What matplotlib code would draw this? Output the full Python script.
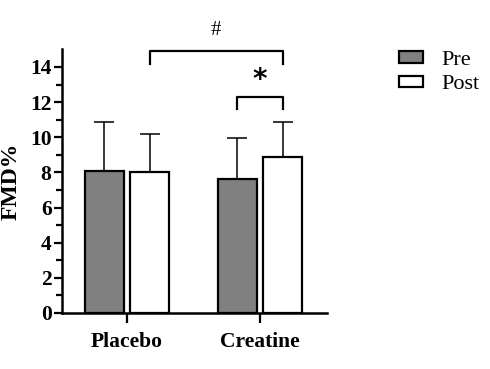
import matplotlib
matplotlib.use("Agg")
import matplotlib.pyplot as plt
import numpy as np

groups = ["Placebo", "Creatine"]
pre_means = [8.08, 7.63]
pre_sd = [2.80, 2.33]
post_means = [8.02, 8.88]
post_sd = [2.17, 2.00]
series_labels = ["Pre", "Post"]
yticks = [0, 2, 4, 6, 8, 10, 12, 14]

plt.rcParams['font.family'] = ['Liberation Serif', 'DejaVu Serif']

fig = plt.figure(figsize=(4.9, 3.69), dpi=100)
W, H = 490, 369
ax = fig.add_axes([62 / W, 1 - 313 / H, (327 - 62) / W, (313 - 49.4) / H])

x = np.arange(len(groups))
off = 0.17
w = 0.29
lw = 1.6
ax.bar(x - off, pre_means, w, color="#808080", edgecolor="black", linewidth=lw, label=series_labels[0], zorder=2)
ax.bar(x + off, post_means, w, color="white", edgecolor="black", linewidth=lw, label=series_labels[1], zorder=2)
ax.errorbar(x - off, pre_means, yerr=[np.zeros(2), pre_sd], fmt="none", ecolor="black", elinewidth=1.1, capsize=7.5, capthick=1.1, zorder=1)
ax.errorbar(x + off, post_means, yerr=[np.zeros(2), post_sd], fmt="none", ecolor="black", elinewidth=1.1, capsize=7.5, capthick=1.1, zorder=1)

ax.set_xlim(-0.489, 1.504)
ax.set_ylim(0, 15)
ax.set_yticks(yticks)
ax.set_yticks(np.arange(0, 15, 1), minor=True)
ax.set_xticks(x)
ax.set_xticklabels(groups, fontsize=15.5, fontweight="bold")
for t in ax.get_yticklabels():
    t.set_fontsize(15.5)
    t.set_fontweight("bold")
ax.tick_params(axis="both", which="major", direction="out", length=6, width=1.6, pad=1.5)
ax.tick_params(axis="y", which="minor", direction="out", length=4, width=1.6)
ax.tick_params(axis="x", length=7, pad=7)
for s in ["top", "right"]:
    ax.spines[s].set_visible(False)
for s in ["left", "bottom"]:
    ax.spines[s].set_linewidth(1.8)
ax.set_ylabel("FMD%", fontsize=17, fontweight="bold", labelpad=6)

# significance brackets
bl = 1.6
ax.plot([x[0] + off, x[0] + off, x[1] + off, x[1] + off], [14.17, 14.93, 14.93, 14.17], color="black", lw=bl, clip_on=False)
ax.text((x[0] + x[1]) / 2 + off - 0.0, 16.1, "#", ha="center", va="center", fontsize=15, clip_on=False)
ax.plot([x[1] - off, x[1] - off, x[1] + off, x[1] + off], [11.61, 12.31, 12.31, 11.61], color="black", lw=bl, clip_on=False)
ax.text(x[1], 13.25, "*", ha="center", va="center", fontsize=20, fontweight="bold", family="DejaVu Sans", clip_on=False)

leg = ax.legend(loc="upper left", bbox_to_anchor=(390 / W, 1 - 42 / H), bbox_transform=fig.transFigure,
                frameon=False, fontsize=16, handlelength=1.1, handleheight=0.45, handletextpad=0.8, labelspacing=0.25,
                borderaxespad=0)

fig.savefig("out.png", dpi=100)
